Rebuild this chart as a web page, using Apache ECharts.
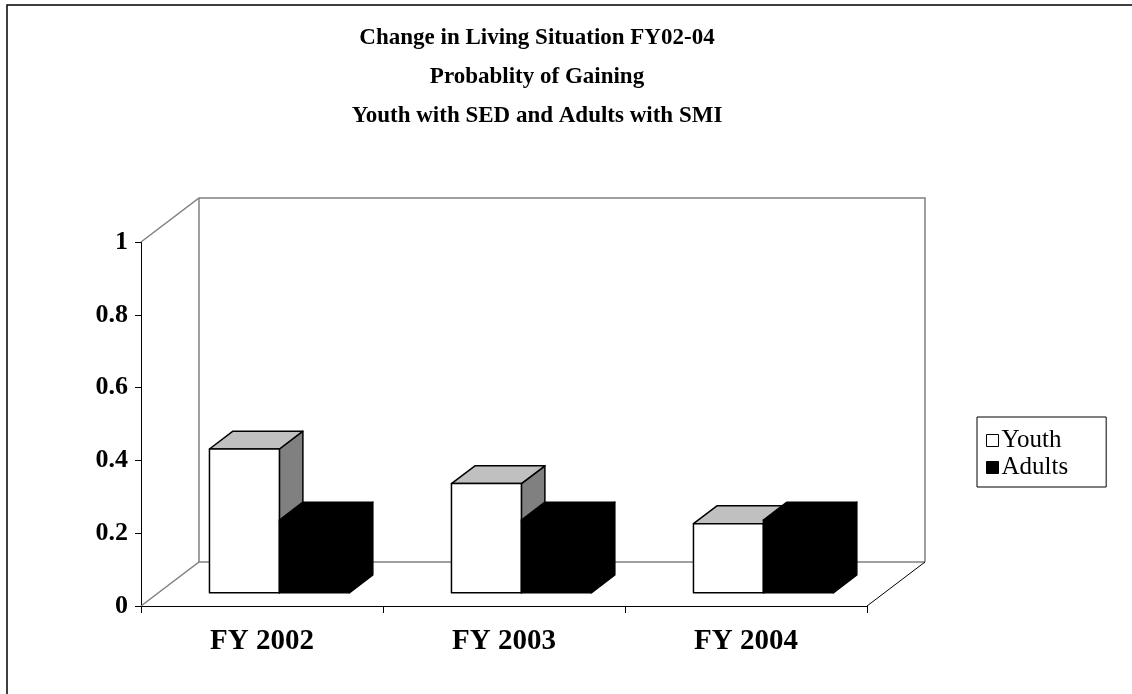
<!DOCTYPE html>
<html>
<head>
<meta charset="utf-8">
<title>Change in Living Situation FY02-04</title>
<script src="https://cdn.jsdelivr.net/npm/echarts@6/dist/echarts.min.js"></script>
<style>
  html, body { margin: 0; padding: 0; background: #fff; }
  #chart { width: 1132px; height: 694px; }
</style>
</head>
<body>
<div id="chart"></div>
<script>
// Chart data
const categories = ['FY 2002', 'FY 2003', 'FY 2004'];
const youthValues = [0.395, 0.30, 0.19];
const adultValues = [0.20, 0.20, 0.20];
const seriesNames = ['Youth', 'Adults'];
const titleLines = [
  'Change in Living Situation FY02-04',
  'Probablity of Gaining',
  'Youth with SED and Adults with SMI'
];

// Oblique 3D projection: full floor depth in pixels, and where the bars sit in it
const DEPTH_X = 58;
const DEPTH_Y = -44;
const BAR_START = 0.3;     // fraction of depth where bar fronts stand
const BAR_DEPTH = 0.405;   // fraction of depth each bar occupies
const BAR_FRAC = 0.289;    // bar width as a share of the category band

const SERIF = '"Liberation Serif", "Times New Roman", serif';
const WALL = '#808080';

// Back wall, side wall and floor outline of the 3D box
function renderFrame(params, api) {
  const cs = params.coordSys;
  const x0 = cs.x, x1 = cs.x + cs.width;
  const yTop = cs.y, yBot = cs.y + cs.height;
  const bx0 = x0 + DEPTH_X, bx1 = x1 + DEPTH_X;
  const byTop = yTop + DEPTH_Y, byBot = yBot + DEPTH_Y;
  const gray = { stroke: WALL, lineWidth: 1.5, fill: null };
  return {
    type: 'group',
    children: [
      { type: 'polyline', shape: { points: [[x0, yTop], [bx0, byTop], [bx1, byTop], [bx1, byBot]] }, style: gray },
      { type: 'polyline', shape: { points: [[x0, yBot], [bx0, byBot], [bx1, byBot]] }, style: gray },
      { type: 'line', shape: { x1: bx0, y1: byTop, x2: bx0, y2: byBot }, style: gray },
      { type: 'line', shape: { x1: x1, y1: yBot, x2: bx1, y2: byBot }, style: { stroke: '#000', lineWidth: 1 } }
    ]
  };
}

// A 3D bar: front face, top face and right side face
function makeBarRenderer(side, colors) {
  return function (params, api) {
    const cat = api.value(0);
    const v = api.value(1);
    const base = api.coord([cat, 0]);
    const top = api.coord([cat, v]);
    const band = api.size([1, 0])[0];
    const w = band * BAR_FRAC;
    const ox = DEPTH_X * BAR_START, oy = DEPTH_Y * BAR_START;
    const dx = DEPTH_X * BAR_DEPTH, dy = DEPTH_Y * BAR_DEPTH;
    const cx = base[0] + ox;
    const x0 = side < 0 ? cx - w : cx;
    const x1 = x0 + w;
    const yb = base[1] + oy;
    const yt = top[1] + oy;
    const edge = { stroke: '#000', lineWidth: 1.5, lineJoin: 'round' };
    return {
      type: 'group',
      children: [
        { type: 'polygon', shape: { points: [[x1, yt], [x1 + dx, yt + dy], [x1 + dx, yb + dy], [x1, yb]] },
          style: Object.assign({ fill: colors.side }, edge) },
        { type: 'polygon', shape: { points: [[x0, yt], [x1, yt], [x1 + dx, yt + dy], [x0 + dx, yt + dy]] },
          style: Object.assign({ fill: colors.top }, edge) },
        { type: 'rect', shape: { x: x0, y: yt, width: w, height: yb - yt },
          style: Object.assign({ fill: colors.front }, edge) }
      ]
    };
  };
}

const chart = echarts.init(document.getElementById('chart'), null, { renderer: 'canvas' });

chart.setOption({
  backgroundColor: '#fff',
  animation: false,
  title: {
    text: titleLines.join('\n'),
    left: 532,
    top: 14,
    textAlign: 'center',
    textStyle: {
      fontFamily: SERIF,
      fontWeight: 'bold',
      fontSize: 23,
      lineHeight: 39,
      color: '#000'
    }
  },
  legend: {
    orient: 'vertical',
    left: 977,
    top: 417,
    padding: [11, 38, 7, 9],
    itemGap: 2,
    itemWidth: 12,
    itemHeight: 12,
    borderColor: '#000',
    borderWidth: 1,
    icon: 'rect',
    textStyle: { fontFamily: SERIF, fontSize: 25, color: '#000', padding: [0, 0, 0, -2] },
    data: [
      { name: seriesNames[0], itemStyle: { color: '#fff', borderColor: '#000', borderWidth: 1 } },
      { name: seriesNames[1], itemStyle: { color: '#000', borderColor: '#000', borderWidth: 1 } }
    ]
  },
  grid: { left: 141, right: 265, top: 242, bottom: 88, containLabel: false },
  xAxis: {
    type: 'category',
    data: categories,
    boundaryGap: true,
    axisLine: { show: true, lineStyle: { color: '#000', width: 1 } },
    axisTick: { show: true, length: 7, lineStyle: { color: '#000' } },
    axisLabel: {
      margin: 21,
      fontFamily: SERIF,
      fontWeight: 'bold',
      fontSize: 29,
      color: '#000'
    },
    splitLine: { show: false }
  },
  yAxis: {
    type: 'value',
    min: 0,
    max: 1,
    interval: 0.2,
    axisLine: { show: true, lineStyle: { color: '#000', width: 1 } },
    axisTick: { show: true, length: 6, lineStyle: { color: '#000' } },
    axisLabel: {
      margin: 13,
      fontFamily: SERIF,
      fontWeight: 'bold',
      fontSize: 26,
      color: '#000'
    },
    splitLine: { show: false }
  },
  graphic: [
    {
      type: 'polyline',
      shape: { points: [[7, 694], [7, 5], [1132, 5]] },
      style: { stroke: '#000', lineWidth: 1.5, fill: null },
      silent: true
    }
  ],
  series: [
    {
      name: 'frame',
      type: 'custom',
      coordinateSystem: 'cartesian2d',
      data: [[0, 0]],
      clip: false,
      silent: true,
      z: 1,
      renderItem: renderFrame
    },
    {
      name: seriesNames[0],
      type: 'custom',
      coordinateSystem: 'cartesian2d',
      data: youthValues.map((v, i) => [i, v]),
      encode: { x: 0, y: 1 },
      clip: false,
      z: 2,
      itemStyle: { color: '#fff', borderColor: '#000' },
      renderItem: makeBarRenderer(-1, { front: '#ffffff', top: '#c0c0c0', side: '#808080' })
    },
    {
      name: seriesNames[1],
      type: 'custom',
      coordinateSystem: 'cartesian2d',
      data: adultValues.map((v, i) => [i, v]),
      encode: { x: 0, y: 1 },
      clip: false,
      z: 3,
      itemStyle: { color: '#000', borderColor: '#000' },
      renderItem: makeBarRenderer(1, { front: '#000000', top: '#000000', side: '#000000' })
    }
  ]
});
</script>
</body>
</html>
